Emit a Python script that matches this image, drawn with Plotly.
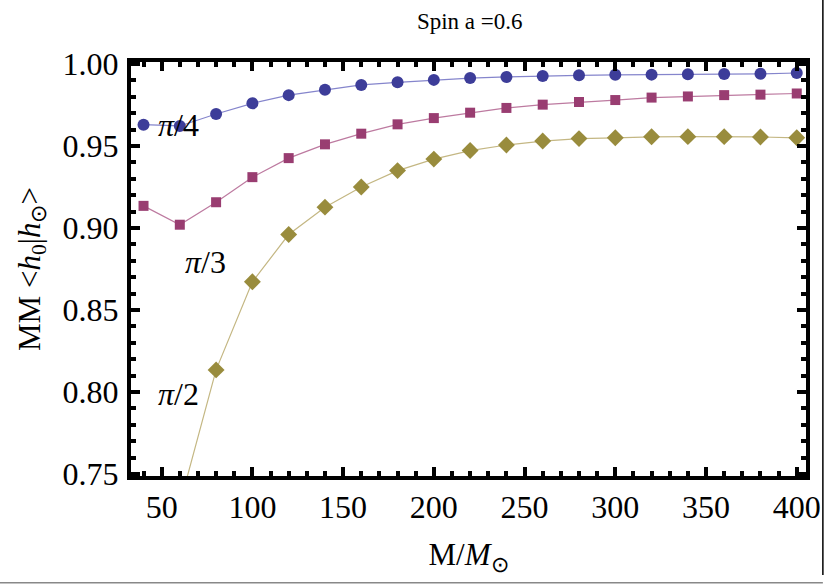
import plotly.graph_objects as go

masses = [40, 60, 80, 100, 120, 140, 160, 180, 200, 220, 240, 260, 280, 300, 320, 340, 360, 380, 400]
mm_pi4 = [0.963, 0.9622, 0.9695, 0.976, 0.981, 0.9843, 0.9872, 0.9888, 0.9903, 0.9914, 0.9921, 0.9927, 0.9931,
          0.9934, 0.9935, 0.9937, 0.9939, 0.994, 0.9945]
mm_pi3 = [0.9135, 0.902, 0.9157, 0.931, 0.9426, 0.951, 0.9575, 0.9632, 0.967, 0.9703, 0.9732, 0.9752, 0.9768,
          0.978, 0.9795, 0.9802, 0.981, 0.9813, 0.982]
masses_pi2 = [60, 80, 100, 120, 140, 160, 180, 200, 220, 240, 260, 280, 300, 320, 340, 360, 380, 400]
mm_pi2 = [0.7316, 0.8135, 0.8672, 0.896, 0.9127, 0.925, 0.935, 0.942, 0.9472, 0.9506, 0.953, 0.9545, 0.955,
          0.9556, 0.9557, 0.9557, 0.9555, 0.955]

labels = ["<i>π</i>/4", "<i>π</i>/3", "<i>π</i>/2"]
label_x = [59, 74, 59]
label_y = [0.963, 0.879, 0.7985]

font_serif = "Liberation Serif, Times New Roman, serif"

fig = go.Figure()
fig.add_trace(go.Scatter(x=masses_pi2, y=mm_pi2, mode="lines+markers",
                         line=dict(color="#c4b783", width=1.2),
                         marker=dict(symbol="diamond", size=13, color="#998c3d")))
fig.add_trace(go.Scatter(x=masses, y=mm_pi3, mode="lines+markers",
                         line=dict(color="#bd7aa0", width=1.2),
                         marker=dict(symbol="square", size=10, color="#993d71")))
fig.add_trace(go.Scatter(x=masses, y=mm_pi4, mode="lines+markers",
                         line=dict(color="#8585cc", width=1.2),
                         marker=dict(symbol="circle", size=12, color="#3d3d99")))

for t, xx, yy in zip(labels, label_x, label_y):
    fig.add_annotation(x=xx, y=yy, text=t, showarrow=False,
                       font=dict(family=font_serif, size=32, color="black"))

axis_common = dict(showline=True, linewidth=4, linecolor="black", mirror="allticks",
                   ticks="inside", ticklen=9, tickwidth=3.5, tickcolor="black",
                   showgrid=False, zeroline=False, tickmode="linear", automargin=False,
                   tickfont=dict(family=font_serif, size=32, color="black"))

fig.update_xaxes(range=[33.1, 405.1], tick0=50, dtick=50,
                 minor=dict(tick0=0, dtick=10, ticks="inside", ticklen=5, tickwidth=3.5,
                            tickcolor="black", showgrid=False),
                 title=dict(text="M/<i>M</i><sub>⊙</sub>", font=dict(family=font_serif, size=31, color="black"),
                            standoff=20),
                 **axis_common)
fig.update_yaxes(range=[0.7488, 1.0012], tick0=0.75, dtick=0.05, tickformat=".2f",
                 ticklabelstandoff=2,
                 minor=dict(tick0=0.75, dtick=0.01, ticks="inside", ticklen=5, tickwidth=3.5,
                            tickcolor="black", showgrid=False),
                 title=dict(text="MM &lt;<i>h</i><sub>0</sub>|<i>h</i><sub>⊙</sub>&gt;",
                            font=dict(family=font_serif, size=31, color="black"), standoff=14),
                 **axis_common)

fig.update_layout(
    width=827, height=585,
    margin=dict(l=131, r=21, t=62, b=109),
    paper_bgcolor="white", plot_bgcolor="white",
    showlegend=False,
    title=dict(text="Spin a =0.6", x=0.568, xanchor="center", y=0.964, yanchor="middle",
               font=dict(family=font_serif, size=23, color="black")),
    shapes=[
        dict(type="line", xref="paper", yref="paper", x0=-0.2, x1=1.025, y0=-0.258, y1=-0.258,
             line=dict(color="#888888", width=1.5)),
        dict(type="line", xref="paper", yref="paper", x0=1.025, x1=1.025, y0=-0.239, y1=1.16,
             line=dict(color="black", width=1.5)),
    ],
)

fig.write_html("out.html", config={"displayModeBar": False},
               post_script="document.body.style.margin='0';document.body.style.overflow='hidden';")
